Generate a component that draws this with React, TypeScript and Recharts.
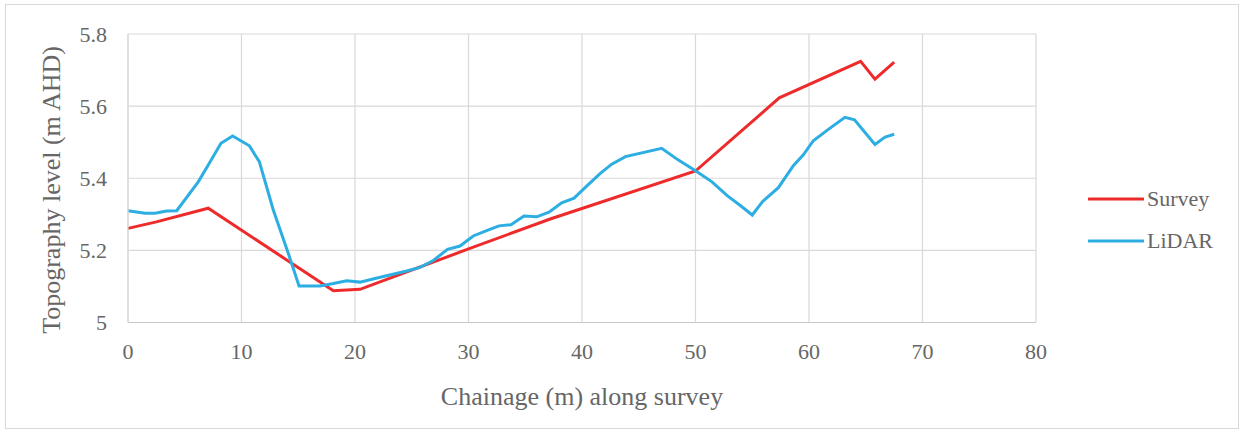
import React from "react";
import {
  LineChart,
  Line,
  XAxis,
  YAxis,
  CartesianGrid,
  Label,
} from "recharts";

// chainage (m) / level (m AHD)
const surveyX = [0, 2.5, 7.07, 18.09, 20.44, 30.0, 37.2, 50.0, 57.38, 64.55, 65.81, 67.51];
const surveyY = [5.261, 5.279, 5.317, 5.088, 5.092, 5.204, 5.287, 5.42, 5.623, 5.724, 5.675, 5.722];

const lidarX = [
  0, 1.5, 2.38, 3.41, 4.29, 6.19, 7.07, 8.19, 9.22, 10.69, 11.57, 12.8, 14.12,
  15.07, 16.92, 18.09, 19.27, 20.44, 21.76, 24.56, 25.73, 26.9, 28.15, 29.25,
  30.42, 31.54, 32.69, 33.74, 34.89, 36.01, 37.09, 38.21, 39.3, 40.48, 41.59,
  42.62, 43.83, 47.02, 48.46, 50.0, 51.45, 52.82, 53.92, 55.0, 55.9, 57.3,
  58.62, 59.5, 60.38, 61.85, 63.17, 64.01, 65.81, 66.7, 67.51,
];
const lidarY = [
  5.31, 5.303, 5.303, 5.309, 5.31, 5.39, 5.437, 5.497, 5.517, 5.49, 5.446,
  5.312, 5.192, 5.101, 5.101, 5.108, 5.116, 5.112, 5.122, 5.143, 5.153, 5.172,
  5.203, 5.212, 5.24, 5.254, 5.268, 5.271, 5.295, 5.293, 5.306, 5.332, 5.345,
  5.38, 5.413, 5.439, 5.46, 5.483, 5.451, 5.421, 5.39, 5.351, 5.325, 5.298,
  5.335, 5.374, 5.435, 5.465, 5.504, 5.539, 5.569, 5.562, 5.494, 5.514, 5.522,
];

const xTicks = [0, 10, 20, 30, 40, 50, 60, 70, 80];
const yTicks = [5, 5.2, 5.4, 5.6, 5.8];

const FONT = "'Liberation Serif', 'Times New Roman', serif";
const TEXT = "#666666";
const GRID = "#d9d9d9";

const series = [
  { name: "Survey", color: "#ee2a2b", data: surveyX.map((x, i) => ({ x, y: surveyY[i] })) },
  { name: "LiDAR", color: "#2caee3", data: lidarX.map((x, i) => ({ x, y: lidarY[i] })) },
];

const tickStyle = { fill: TEXT, fontSize: 22, fontFamily: FONT, style: { fontFamily: FONT } };

const YTitle = () => (
  <text
    x={60}
    y={190}
    transform="rotate(-90, 60, 190)"
    textAnchor="middle"
    fill={TEXT}
    fontSize={26}
    style={{ fontFamily: FONT }}
  >
    Topography level (m AHD)
  </text>
);

export default function App() {
  return (
    <div
      style={{
        position: "absolute",
        left: 0,
        top: 0,
        width: 1245,
        height: 435,
        background: "#fff",
        fontFamily: FONT,
      }}
    >
      <div
        style={{
          position: "absolute",
          left: 5,
          top: 4,
          width: 1232,
          height: 423,
          border: `1px solid ${GRID}`,
        }}
      />
      <LineChart
        width={1245}
        height={435}
        margin={{ top: 34, left: 68, right: 209, bottom: 82.5 }}
        style={{ position: "absolute", left: 0, top: 0, fontFamily: FONT }}
      >
        <CartesianGrid stroke={GRID} strokeWidth={1.2} />
        <XAxis
          dataKey="x"
          type="number"
          domain={[0, 80]}
          ticks={xTicks}
          height={30}
          tickSize={0}
          tickMargin={21}
          axisLine={{ stroke: "#c8c8c8", strokeWidth: 1.2 }}
          tick={tickStyle}
        >
          <Label
            value="Chainage (m) along survey"
            position="bottom"
            offset={34}
            fill={TEXT}
            fontSize={26}
            style={{ fontFamily: FONT }}
          />
        </XAxis>
        <YAxis
          dataKey="y"
          type="number"
          domain={[5, 5.8]}
          ticks={yTicks}
          width={60}
          tickSize={0}
          tickMargin={21}
          axisLine={{ stroke: GRID, strokeWidth: 1.2 }}
          tick={tickStyle}
          label={{ content: () => <YTitle /> }}
        />
        {series.map((s) => (
          <Line
            key={s.name}
            data={s.data}
            dataKey="y"
            name={s.name}
            type="linear"
            stroke={s.color}
            strokeWidth={3}
            dot={false}
            isAnimationActive={false}
          />
        ))}
      </LineChart>
      <div style={{ position: "absolute", left: 1088, top: 178 }}>
        {series.map((s) => (
          <div
            key={s.name}
            style={{ display: "flex", alignItems: "center", height: 42 }}
          >
            <svg width={56} height={8} style={{ display: "block" }}>
              <line x1={1} y1={4} x2={55} y2={4} stroke={s.color} strokeWidth={3} strokeLinecap="round" />
            </svg>
            <span style={{ marginLeft: 3, fontSize: 22, color: TEXT, lineHeight: "30px" }}>
              {s.name}
            </span>
          </div>
        ))}
      </div>
    </div>
  );
}
